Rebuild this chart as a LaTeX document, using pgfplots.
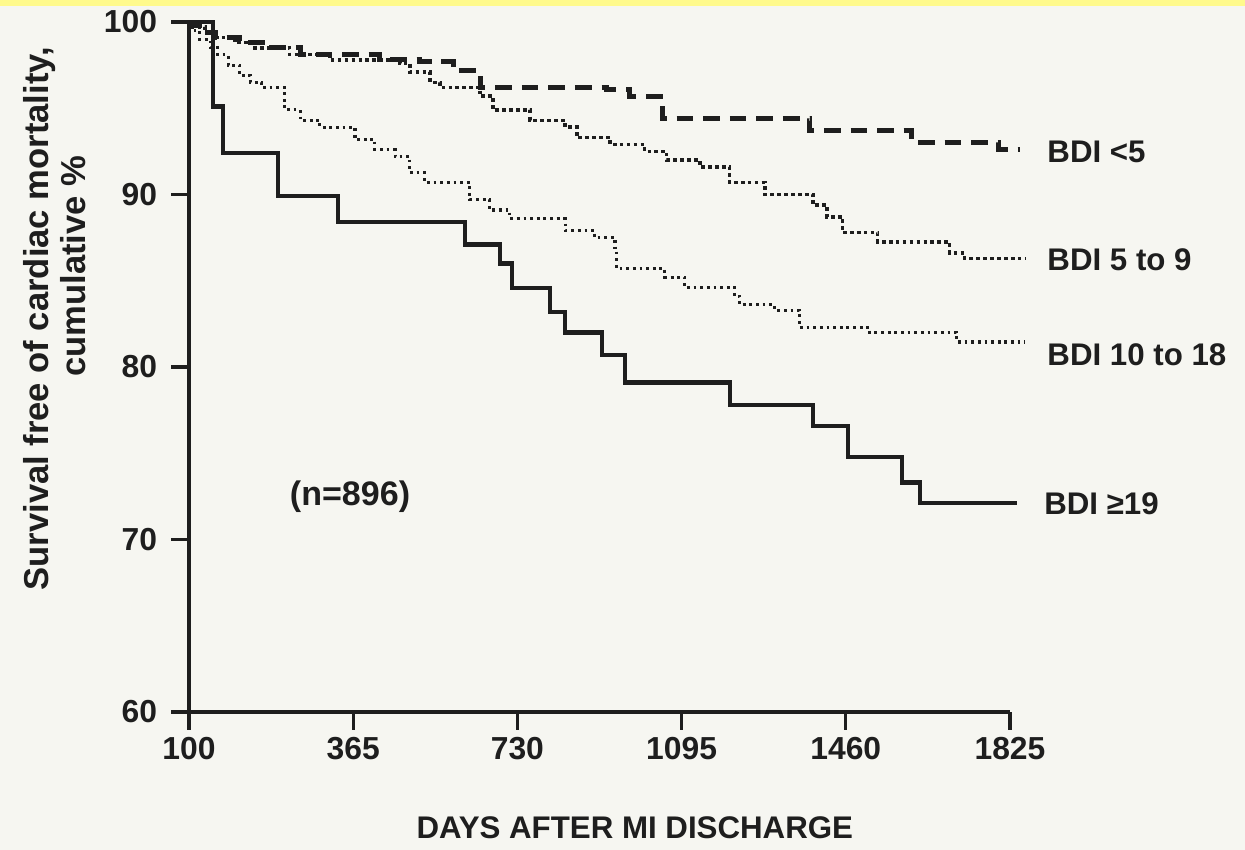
\documentclass[border=0pt]{standalone}
\usepackage{pgfplots}
\pgfplotsset{compat=1.18}
\usepackage{fontspec}
\setmainfont{Liberation Sans}
\definecolor{bg}{HTML}{F6F6F1}
\definecolor{band}{HTML}{FFFA8C}
\definecolor{ink}{HTML}{1E1E1E}

\pgfplotstableread{
x y
0 100
53 95.1
76 92.4
198 89.9
331 88.4
613 87.1
691 86.0
718 84.6
802 83.2
836 82.0
918 80.7
969 79.1
1202 77.8
1387 76.6
1464 74.8
1584 73.3
1624 72.1
1840 72.1
}\bdiNineteen

\pgfplotstableread{
x y
0 100
7 99.8
36 99.4
58 99.1
113 98.8
169 98.5
247 98.1
424 97.8
513 97.7
587 97.2
647 96.2
929 96.1
980 95.7
1053 94.4
1380 93.7
1607 93.0
1800 92.6
1847 92.6
}\bdiFive

\pgfplotstableread{
x y
0 100
7 99.7
36 99.4
53 99.1
102 98.8
147 98.5
224 98.1
313 97.8
469 97.6
491 97.1
536 96.5
558 96.2
647 95.7
676 94.9
758 94.3
836 93.9
862 93.3
936 92.9
1013 92.5
1062 92.0
1136 91.6
1202 90.7
1280 90.0
1387 89.4
1418 88.7
1453 87.8
1531 87.25
1691 86.6
1724 86.3
1858 86.3
}\bdiFiveNine

\pgfplotstableread{
x y
0 100
7 99.5
24 99.0
47 98.5
64 98.1
87 97.5
113 96.9
136 96.5
162 96.2
213 94.9
247 94.3
291 93.9
369 93.2
413 92.6
458 92.2
491 91.25
524 90.7
624 89.7
669 89.1
713 88.6
836 87.9
902 87.5
947 86.8
951 85.7
1058 85.2
1102 84.6
1213 84.1
1224 83.6
1302 83.3
1358 82.3
1513 82.0
1707 81.45
1858 81.45
}\bdiTen

\begin{document}
\begin{tikzpicture}
\useasboundingbox (0,0) rectangle (450pt,307.23pt);
\fill[bg] (0,0) rectangle (450pt,307.23pt);
\fill[band] (0,305.0pt) rectangle (450pt,307.23pt);
\begin{axis}[
  at={(68.31pt,49.88pt)}, anchor=south west,
  width=296.75pt, height=249.40pt, scale only axis,
  xmin=0, xmax=1825, ymin=60, ymax=100,
  axis x line=bottom, axis y line=left,
  axis line style={-, line width=1.1pt, draw=ink},
  xtick={0,365,730,1095,1460,1825},
  xticklabels={100,365,730,1095,1460,1825},
  ytick={60,70,80,90,100},
  tick align=outside, major tick length=6.5pt,
  tick style={line width=1.1pt, draw=ink},
  ticklabel style={font=\fontsize{11.5}{13}\selectfont\bfseries, text=ink},
  yticklabel style={xshift=-1.5pt},
  xticklabel style={yshift=1pt},
  /pgf/number format/assume math mode=true,
  clip=false,
]
\addplot[const plot, draw=ink, line width=1.5pt] table {\bdiNineteen};
\addplot[const plot, draw=ink, line width=1.8pt, dash pattern=on 6pt off 3.6pt] table {\bdiFive};
\addplot[const plot, draw=ink, line width=1.25pt, dash pattern=on 1.3pt off 1.2pt] table {\bdiFiveNine};
\addplot[const plot, draw=ink, line width=1.1pt, dash pattern=on 1.0pt off 1.4pt] table {\bdiTen};

\begin{scope}[every node/.style={anchor=west, inner sep=0pt, text=ink, font=\fontsize{11.3}{13}\selectfont\bfseries}]
\node at (axis cs:1907,92.46) {BDI <5};
\node at (axis cs:1907,86.2) {BDI 5 to 9};
\node at (axis cs:1907,80.7) {BDI 10 to 18};
\node at (axis cs:1900,72.1) {BDI ≥19};
\end{scope}
\node[text=ink, font=\fontsize{12.3}{14}\selectfont\bfseries] at (axis cs:358,72.46) {(n=896)};
\node[text=ink, font=\fontsize{11.3}{13}\selectfont\bfseries] at (rel axis cs:0.543,0) [yshift=-41.9pt] {DAYS AFTER MI DISCHARGE};
\end{axis}
\node[rotate=90, text=ink, font=\fontsize{12.5}{14}\selectfont\bfseries] at (14.46pt,192.0pt) {Survival free of cardiac mortality,};
\node[rotate=90, text=ink, font=\fontsize{12.5}{14}\selectfont\bfseries] at (26.3pt,211.0pt) {cumulative \%};
\end{tikzpicture}
\end{document}
